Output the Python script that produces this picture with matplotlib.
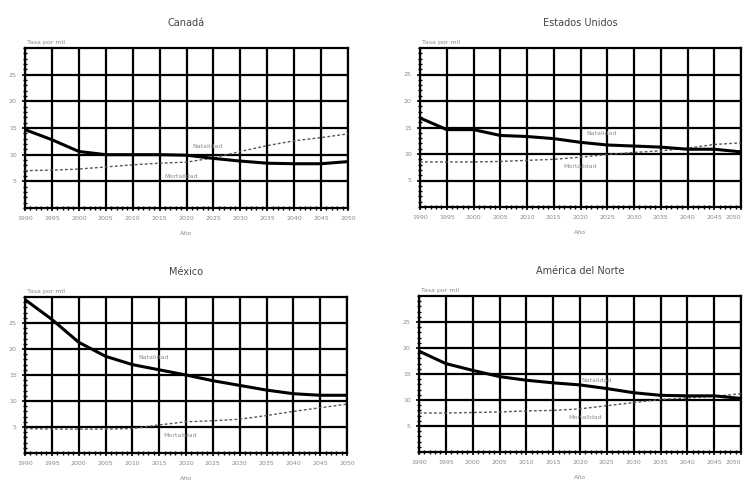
import matplotlib
matplotlib.use("Agg")
import matplotlib.pyplot as plt
from matplotlib.ticker import MultipleLocator

# Tasas brutas por mil habitantes, 1990-2050
years = [1990, 1995, 2000, 2005, 2010, 2015, 2020, 2025, 2030, 2035, 2040, 2045, 2050]

canada_natalidad = [14.7, 12.8, 10.6, 10.0, 10.0, 10.0, 9.9, 9.3, 8.8, 8.4, 8.3, 8.3, 8.7]
canada_mortalidad = [7.0, 7.1, 7.3, 7.7, 8.1, 8.4, 8.6, 9.4, 10.6, 11.7, 12.6, 13.2, 13.9]

eu_natalidad = [16.8, 14.6, 14.6, 13.5, 13.3, 12.9, 12.2, 11.7, 11.5, 11.3, 10.9, 10.9, 10.4]
eu_mortalidad = [8.5, 8.5, 8.5, 8.6, 8.8, 9.0, 9.4, 9.9, 10.3, 10.6, 11.1, 11.8, 12.1]

mexico_natalidad = [29.5, 25.7, 21.3, 18.6, 17.0, 16.0, 15.0, 13.9, 13.0, 12.1, 11.4, 11.1, 11.1]
mexico_mortalidad = [4.7, 4.6, 4.6, 4.6, 4.7, 5.4, 6.0, 6.2, 6.5, 7.2, 8.0, 8.7, 9.4]

an_natalidad = [19.4, 17.0, 15.7, 14.5, 13.8, 13.3, 12.9, 12.2, 11.4, 10.9, 10.8, 10.8, 10.3]
an_mortalidad = [7.5, 7.5, 7.6, 7.7, 7.9, 8.0, 8.3, 8.9, 9.5, 10.1, 10.4, 10.7, 11.2]

y_ticks = [5, 10, 15, 20, 25]

titles = ["Canadá", "Estados Unidos", "México", "América del Norte"]
label_natalidad = "Natalidad"
label_mortalidad = "Mortalidad"
y_label = "Tasa por mil"
x_label = "Año"

W, H = 743, 483
fig = plt.figure(figsize=(W / 100, H / 100), dpi=100)
fig.patch.set_facecolor("white")


def frac(left, top, right, bottom):
    return [left / W, 1 - bottom / H, (right - left) / W, (bottom - top) / H]


panels = [
    (frac(25, 48, 348, 208), canada_natalidad, canada_mortalidad,
     (2024, 11.6), (2019, 5.9), False),
    (frac(420, 48, 741, 207), eu_natalidad, eu_mortalidad,
     (2024, 13.9), (2020, 7.7), True),
    (frac(25, 297, 347, 453), mexico_natalidad, mexico_mortalidad,
     (2014, 18.4), (2019, 3.4), False),
    (frac(419, 296, 741, 452), an_natalidad, an_mortalidad,
     (2023, 13.7), (2021, 6.7), True),
]

text_grey = "#8a8a8a"

for (pos, nat, mort, lab_n, lab_m, at_edge), title in zip(panels, titles):
    ax = fig.add_axes(pos)
    ax.set_xlim(years[0], years[-1])
    ax.set_ylim(0, 30)
    ax.set_xticks(years, [str(y) for y in years])
    ax.xaxis.set_minor_locator(MultipleLocator(1))
    ax.set_yticks(y_ticks, [str(v) for v in y_ticks])
    ax.yaxis.set_minor_locator(MultipleLocator(1))
    ax.grid(True, which="major", color="black", linewidth=1.6, zorder=1)
    ax.set_axisbelow(True)
    for sp in ax.spines.values():
        sp.set_linewidth(1.6)
        sp.set_color("black")
    ax.tick_params(which="both", direction="inout", color="black",
                   labelsize=4.5, labelcolor=text_grey, pad=4)
    ax.tick_params(which="major", length=4, width=1.2)
    ax.tick_params(which="minor", length=3, width=1.0)

    if at_edge:
        # keep the last year label inside the figure edge
        ax.get_xticklabels()[-1].set_horizontalalignment("right")

    ax.plot(years, mort, color="#555555", linewidth=1.0,
            linestyle=(0, (2, 1.6)), zorder=3)
    ax.plot(years, nat, color="black", linewidth=2.2, zorder=4,
            solid_capstyle="round")

    ax.text(lab_n[0], lab_n[1], label_natalidad, fontsize=4.5,
            color=text_grey, ha="center", va="center", zorder=5)
    ax.text(lab_m[0], lab_m[1], label_mortalidad, fontsize=4.5,
            color=text_grey, ha="center", va="center", zorder=5)

    ax.set_title(title, fontsize=7, color="#444444", pad=16)
    ax.text(0.005, 1.02, y_label, transform=ax.transAxes, fontsize=4.5,
            color=text_grey, ha="left", va="bottom")
    ax.set_xlabel(x_label, fontsize=4.5, color=text_grey, labelpad=7)

fig.savefig("out.png", dpi=100, facecolor="white")
